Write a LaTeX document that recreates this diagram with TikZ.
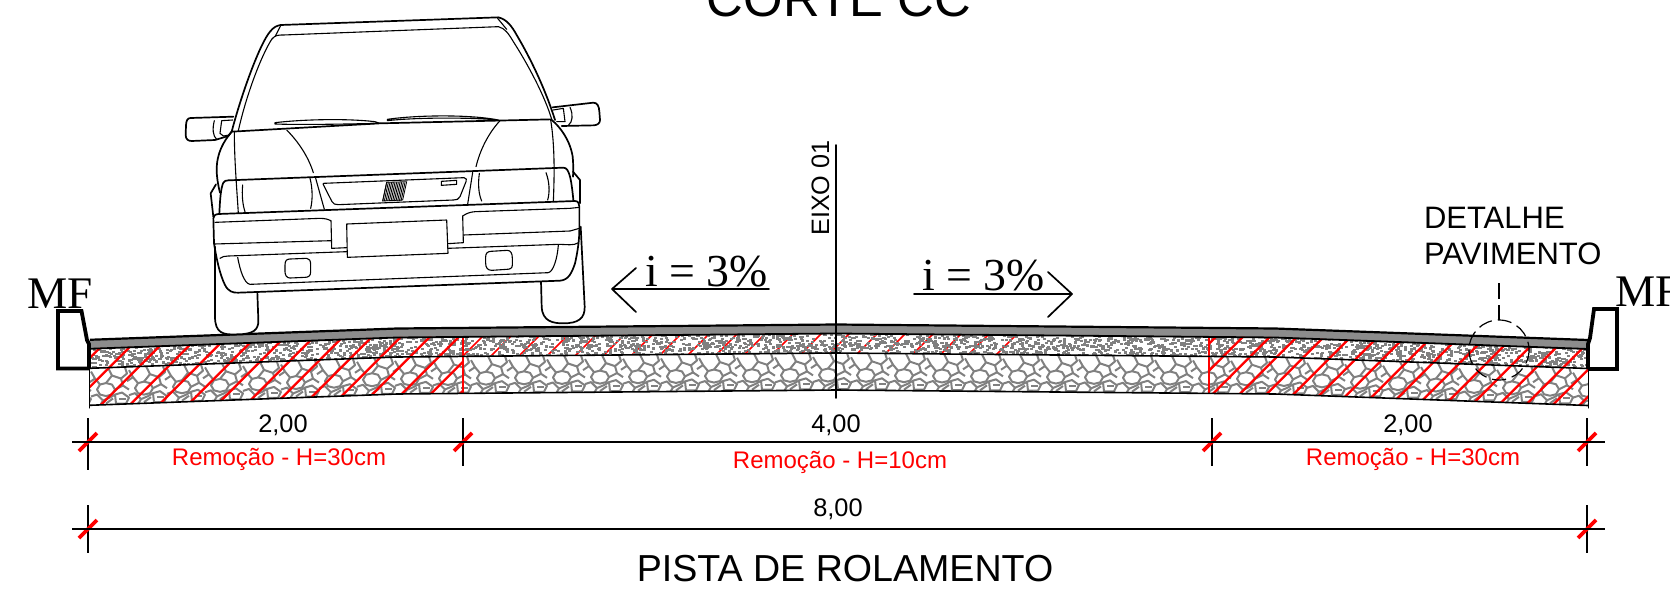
\documentclass[tikz,border=0pt]{standalone}
\usepackage{fontspec}
\usetikzlibrary{calc}
\setmainfont{Liberation Sans}
\newfontfamily\tms{Liberation Serif}
\newcommand{\fs}[1]{\fontsize{#1}{#1}\selectfont}
\tikzset{
  declare function={prof(\x)=(abs(\x-836)<439 ? 4*abs(\x-836)/439 : 4+(abs(\x-836)-439)*11.5/313);},
  lay/.style={insert path={(90,{#1+prof(90)}) -- (250,{#1+prof(250)}) -- (397,{#1+prof(397)}) -- (600,{#1+prof(600)}) -- (836,#1) -- (1072,{#1+prof(1072)}) -- (1275,{#1+prof(1275)}) -- (1430,{#1+prof(1430)}) -- (1588,{#1+prof(1588)})}},
  layr/.style={insert path={-- (1588,{#1+prof(1588)}) -- (1430,{#1+prof(1430)}) -- (1275,{#1+prof(1275)}) -- (1072,{#1+prof(1072)}) -- (836,#1) -- (600,{#1+prof(600)}) -- (397,{#1+prof(397)}) -- (250,{#1+prof(250)}) -- (90,{#1+prof(90)})}},
  blk/.style={draw=black,line width=0.85pt,line cap=round,line join=round},
  thin car/.style={draw=black,line width=0.55pt,line cap=round,line join=round},
  thick car/.style={draw=black,line width=0.85pt,line cap=round,line join=round},
  curb/.style={draw=black,line width=1.9pt,line join=miter},
  dimline/.style={draw=black,line width=0.85pt},
  redtick/.style={draw=red,line width=1.8pt},
  redhatch/.style={draw=red,line width=1.1pt},
  stone/.style={draw=black!50,line width=1pt,line join=round},
  lbl/.style={inner sep=0pt,outer sep=0pt,font=\fs{12.7}},
  redlbl/.style={inner sep=0pt,outer sep=0pt,font=\fs{12},text=red},
}
\begin{document}
\begin{tikzpicture}[x=0.5pt,y=-0.5pt]
\useasboundingbox (0,0) rectangle (1670,594);
\clip (0,0) rectangle (1670,594);
% asphalt
\fill[black!45] [lay=324.5] [layr=333.5] -- cycle;
% centre hatching (under the speckle)
\begin{scope}
  \clip (463,320) rectangle (1209,380);
  \clip [lay=333] [layr=353] -- cycle;
  \foreach \k in {-12,...,14}{
    \draw[redhatch,line width=0.8pt] ({959+28*\k-320},320) -- ({959+28*\k-380},380);
  }
\end{scope}
% aggregate speckle
\begin{scope}
  \clip [lay=333] [layr=353] -- cycle;
  \pgfmathsetseed{4217}
  \foreach \i in {1,...,2800}{
    \pgfmathsetmacro\xx{90+1498*rnd}
    \pgfmathsetmacro\yy{333+prof(\xx)+20*rnd}
    \fill[black!50] (\xx,\yy) rectangle ++(3,2.2);
  }
\end{scope}
% stone layer
\begin{scope}
  \clip [lay=353] [layr=390] -- cycle;
  \foreach \k in {-1,...,39}{
    \pgfmathsetmacro\tx{91+38*\k}
    \pgfmathsetmacro\ty{353+prof(\tx+19)}
    \begin{scope}[shift={(\tx,\ty)}]
      \draw[stone] (6,22) -- (9,17) -- (15,15.5) -- (21,17) -- (24,22) -- (21,27) -- (15,28.5) -- (9,27) -- cycle;
      \draw[stone] (17,0) -- (21,8) -- (30,11) -- (36,6) -- (34,0);
      \draw[stone] (0,4) -- (4,11) -- (9,17);
      \draw[stone] (21,8) -- (15,15.5);
      \draw[stone] (30,11) -- (32,18) -- (24,22);
      \draw[stone] (32,18) -- (38,22);
      \draw[stone] (24,27) -- (31,25) -- (38,30) -- (35,36) -- (25,36) -- cycle;
      \draw[stone] (0,29) -- (6,27) -- (12,33) -- (9,38);
      \draw[stone] (12,33) -- (19,30) -- (24,27);
      \draw[stone] (15,36) -- (22,31);
      \draw[stone] (4,11) -- (-2,15);
      \draw[stone] (28,31) -- (35,31);
    \end{scope}
  }
\end{scope}
% red hatching, left and right
\begin{scope}
  \clip (90,320) rectangle (463,420);
  \clip [lay=333] [layr=390] -- cycle;
  \foreach \k in {-2,...,16}{
    \draw[redhatch] ({476.7+29*\k-320},320) -- ({476.7+29*\k-420},420);
  }
\end{scope}
\begin{scope}
  \clip (1209,320) rectangle (1588,420);
  \clip [lay=333] [layr=390] -- cycle;
  \foreach \k in {-2,...,17}{
    \draw[redhatch] ({1606.7+27*\k-320},320) -- ({1606.7+27*\k-420},420);
  }
\end{scope}
\draw[redhatch] (463,336) -- (463,393);
\draw[redhatch] (1209,336) -- (1209,393);
% pavement outlines
\draw[draw=black,line width=1.1pt] [lay=324.5];
\draw[draw=black,line width=0.9pt] [lay=333.5];
\draw[draw=black,line width=0.8pt] [lay=353];
\draw[draw=black,line width=0.8pt] [lay=390];
% side edges and curbs
\draw[blk,line width=0.5pt] (89,341) -- (89,408);
\draw[blk,line width=0.5pt] (1588,341) -- (1588,408);
\draw[curb] (89,368.5) -- (58,368.5) -- (58,311) -- (81.5,311) -- (87,340) -- (89,344) -- (89,368.5);
\draw[curb] (1588,369) -- (1617,369) -- (1617,309) -- (1594,309) -- (1590,338) -- (1588,344) -- (1588,369);
% labels MF
\node[lbl,font=\tms\fs{22.6},anchor=base west] (mfl) at (27,308) {MF};
\node[lbl,font=\tms\fs{22.6},anchor=base west] (mfr) at (1615,306) {MF};
% centre axis
\coordinate (axt) at (836,145);
\coordinate (axb) at (836,398);
\draw[blk] (axt) -- (axb);
\node[lbl,font=\fs{12.6},rotate=90,anchor=base] (eixo) at (829,188) {EIXO 01};
% slope arrows
\node[lbl,font=\tms\fs{22.9},anchor=base west] (il) at (645,286) {i = 3\%};
\coordinate (al) at (612,289); \coordinate (alr) at (769,289);
\coordinate (alu) at (636,268); \coordinate (ald) at (636,312);
\draw[blk] (alr) -- (al) (alu) -- (al) -- (ald);
\node[lbl,font=\tms\fs{22.9},anchor=base west] (ir) at (922,290) {i = 3\%};
\coordinate (ar) at (1072,294); \coordinate (arl) at (914,294);
\coordinate (aru) at (1048,272); \coordinate (ard) at (1048,317);
\draw[blk] (arl) -- (ar) (aru) -- (ar) -- (ard);
% detail
\node[lbl,font=\fs{15.5},anchor=base west] (d1) at (1424,228) {DETALHE};
\node[lbl,font=\fs{15.5},anchor=base west] (d2) at (1424,264) {PAVIMENTO};
\coordinate (ldt) at (1499,283); \coordinate (ldb) at (1499,320);
\draw[draw=black,line width=0.6pt,dash pattern=on 8pt off 3pt] (ldt) -- (ldb);
\draw[draw=black,line width=0.6pt,dash pattern=on 7pt off 3pt] (1499,350) circle [radius=30];
% dimension lines
\foreach \n/\x/\b in {a/88/470,b/463/466,c/1212/466,d/1587/466}{
  \coordinate (\n t) at (\x,418); \coordinate (\n b) at (\x,\b);
  \coordinate (\n m) at (\x,442);
  \draw[dimline] (\n t) -- (\n b);
  \draw[redtick] ($(\n m)+(-9,9)$) -- ($(\n m)+(9,-9)$);
}
\draw[dimline] (72,442) -- (1605,442);
\foreach \n/\x in {e/88,f/1587}{
  \coordinate (\n t) at (\x,505); \coordinate (\n b) at (\x,553);
  \coordinate (\n m) at (\x,529);
  \draw[dimline] (\n t) -- (\n b);
  \draw[redtick] ($(\n m)+(-9,9)$) -- ($(\n m)+(9,-9)$);
}
\draw[dimline] (72,529) -- (1605,529);
\node[lbl,anchor=base] (d200l) at (283,432) {2,00};
\node[lbl,anchor=base] (d400) at (836,432) {4,00};
\node[lbl,anchor=base] (d200r) at (1408,432) {2,00};
\node[lbl,anchor=base] (d800) at (838,516) {8,00};
\node[redlbl,anchor=base] (r1) at (279,465) {Remoção - H=30cm};
\node[redlbl,anchor=base] (r2) at (840,468) {Remoção - H=10cm};
\node[redlbl,anchor=base] (r3) at (1413,465) {Remoção - H=30cm};
\node[lbl,font=\fs{18.8},anchor=base] (pista) at (845,581) {PISTA DE ROLAMENTO};
\node[lbl,font=\fs{25.4},anchor=base] (corte) at (839,17) {CORTE CC};
% the car, in coordinates of a 3x view
\begin{scope}[x=0.16667pt,y=-0.16667pt,shift={(510,0)}]
  % wheels
  \fill[white] (135,740) -- (135,950) .. controls (135,1000) and (160,1005) .. (200,1003) .. controls (250,1003) and (266,990) .. (265,960) -- (262,878) -- (1113,845) -- (1115,920) .. controls (1117,965) and (1150,970) .. (1180,970) .. controls (1225,970) and (1245,955) .. (1244,920) -- (1235,690) -- cycle;
  \draw[thick car] (135,740) -- (135,950) .. controls (135,1000) and (160,1005) .. (200,1003) .. controls (250,1003) and (266,990) .. (265,960) -- (262,878);
  \draw[thick car] (1113,845) -- (1115,920) .. controls (1117,965) and (1150,970) .. (1180,970) .. controls (1225,970) and (1245,955) .. (1244,920) -- (1232,680);
  % roof
  \draw[thick car] (185,395) .. controls (215,280) and (270,130) .. (300,95) .. controls (310,82) and (320,77) .. (332,75) -- (985,52) .. controls (1010,58) and (1025,78) .. (1040,105) .. controls (1090,190) and (1130,280) .. (1155,360);
  \draw[thin car] (205,392) .. controls (230,280) and (275,165) .. (305,118) .. controls (315,105) and (325,105) .. (340,105) -- (985,80) .. controls (1005,85) and (1015,100) .. (1030,125) .. controls (1075,195) and (1125,290) .. (1145,358);
  \draw[thin car] (332,77) -- (316,108) (982,54) -- (1010,88);
  % hood line and wipers
  \draw[thick car] (185,395) -- (630,370) -- (1145,358);
  \draw[thin car] (315,368) .. controls (400,358) and (530,355) .. (615,365) -- (630,370) .. controls (530,372) and (400,375) .. (315,372) -- cycle;
  \draw[thin car] (652,358) .. controls (740,345) and (900,343) .. (985,360) .. controls (900,352) and (740,352) .. (652,362) -- cycle;
  % body sides
  \draw[thick car] (185,395) .. controls (160,425) and (140,460) .. (140,510) .. controls (140,530) and (145,560) .. (150,578);
  \draw[thick car] (1145,360) .. controls (1170,380) and (1200,420) .. (1208,470) .. controls (1210,490) and (1210,510) .. (1209,530);
  \draw[thin car] (193,395) .. controls (193,480) and (200,560) .. (205,640);
  \draw[thin car] (1142,360) .. controls (1155,440) and (1153,530) .. (1150,605);
  \draw[thin car] (350,390) .. controls (385,425) and (415,470) .. (430,518);
  \draw[thin car] (990,362) .. controls (955,400) and (930,450) .. (918,500);
  % side flares
  \draw[thick car] (138,553) -- (122,580) -- (130,650);
  \draw[thick car] (1209,515) -- (1230,540) -- (1230,610);
  % lamp band
  \draw[thick car] (148,640) .. controls (150,600) and (152,565) .. (160,548) .. controls (163,543) and (168,541) .. (175,541) -- (1180,503) .. controls (1190,503) and (1195,512) .. (1200,530) .. controls (1205,550) and (1208,580) .. (1210,600);
  \draw[thin car] (437,535) -- (463,628) (908,517) -- (893,612);
  \draw[thin car] (218,555) .. controls (215,585) and (218,615) .. (225,635);
  \draw[thin car] (420,535) .. controls (428,565) and (428,600) .. (422,625);
  \draw[thin car] (928,520) .. controls (924,550) and (925,580) .. (935,603);
  \draw[thin car] (1128,518) .. controls (1138,545) and (1140,575) .. (1133,600);
  % grille
  \draw[thin car] (460,550) -- (882,533) .. controls (890,533) and (890,540) .. (888,545) -- (870,590) .. controls (866,598) and (860,600) .. (850,600) -- (505,614) .. controls (495,614) and (490,612) .. (486,605) -- (463,560) .. controls (460,555) and (458,550) .. (460,550) -- cycle;
  \draw[thin car] (814,544) -- (860,541) -- (860,553) -- (814,556) -- cycle;
  \foreach \q in {0,...,11}{
    \draw[draw=black,line width=0.45pt] ({650+5*\q},547) -- ({638+5*\q},603);
  }
  \draw[draw=black,line width=0.4pt] (650,547) -- (710,545) -- (698,600) -- (638,603) -- cycle;
  % bumper
  \draw[thick car] (132,730) -- (130,655) .. controls (130,648) and (135,643) .. (145,642) -- (1215,603) .. controls (1225,603) and (1228,612) .. (1228,620) -- (1228,690);
  \draw[thin car] (135,667) -- (450,655) .. controls (465,655) and (475,658) .. (482,662);
  \draw[thin car] (878,648) .. controls (890,640) and (900,636) .. (915,635) -- (1200,625) -- (1228,622);
  \draw[thin car] (132,732) -- (484,722);
  \draw[thin car] (880,705) -- (1200,693) -- (1228,685);
  \draw[thin car] (483,662) -- (485,745) -- (530,743);
  \draw[thin car] (878,648) -- (880,728) -- (833,731);
  \draw[thin car] (530,672) -- (830,660) -- (834,760) -- (532,772) -- cycle;
  \draw[thin car] (150,775) .. controls (155,770) and (165,768) .. (175,768) -- (530,755);
  \draw[thin car] (833,745) -- (1165,733) .. controls (1190,733) and (1210,738) .. (1226,728);
  \draw[thick car] (132,730) .. controls (140,780) and (150,825) .. (165,855) .. controls (175,875) and (190,879) .. (205,878) -- (1170,842) .. controls (1195,840) and (1205,820) .. (1215,790) .. controls (1222,760) and (1228,720) .. (1228,690);
  \draw[thin car] (203,772) .. controls (210,810) and (222,850) .. (240,853) -- (1135,818) .. controls (1150,815) and (1162,775) .. (1165,735);
  \draw[thin car] (360,777) -- (410,775) .. controls (418,775) and (422,782) .. (422,795) -- (422,815) .. controls (422,828) and (415,832) .. (405,832) -- (360,834) .. controls (350,834) and (345,825) .. (345,815) -- (345,795) .. controls (345,782) and (350,777) .. (360,777) -- cycle;
  \draw[thin car] (962,754) -- (1012,751) .. controls (1022,751) and (1027,760) .. (1027,775) -- (1027,795) .. controls (1027,805) and (1020,808) .. (1010,808) -- (965,811) .. controls (952,811) and (947,802) .. (947,790) -- (947,770) .. controls (947,760) and (952,755) .. (962,754) -- cycle;
  % mirrors
  \draw[thick car] (190,350) -- (62,354) .. controls (52,354) and (49,362) .. (48,375) -- (47,405) .. controls (47,418) and (55,423) .. (65,423) -- (135,420) -- (175,408) -- (187,392);
  \draw[thin car] (133,362) .. controls (127,385) and (128,408) .. (140,418);
  \draw[thin car] (188,360) -- (155,362) -- (150,400) -- (160,408) -- (178,405);
  \draw[thick car] (1148,322) -- (1270,308) .. controls (1282,308) and (1287,318) .. (1288,335) -- (1290,360) .. controls (1290,370) and (1282,375) .. (1272,376) -- (1175,378);
  \draw[thin car] (1200,322) .. controls (1210,345) and (1208,365) .. (1195,376);
  \draw[thin car] (1150,330) -- (1180,325) -- (1185,365) -- (1160,365);
\end{scope}
\end{tikzpicture}
\end{document}
